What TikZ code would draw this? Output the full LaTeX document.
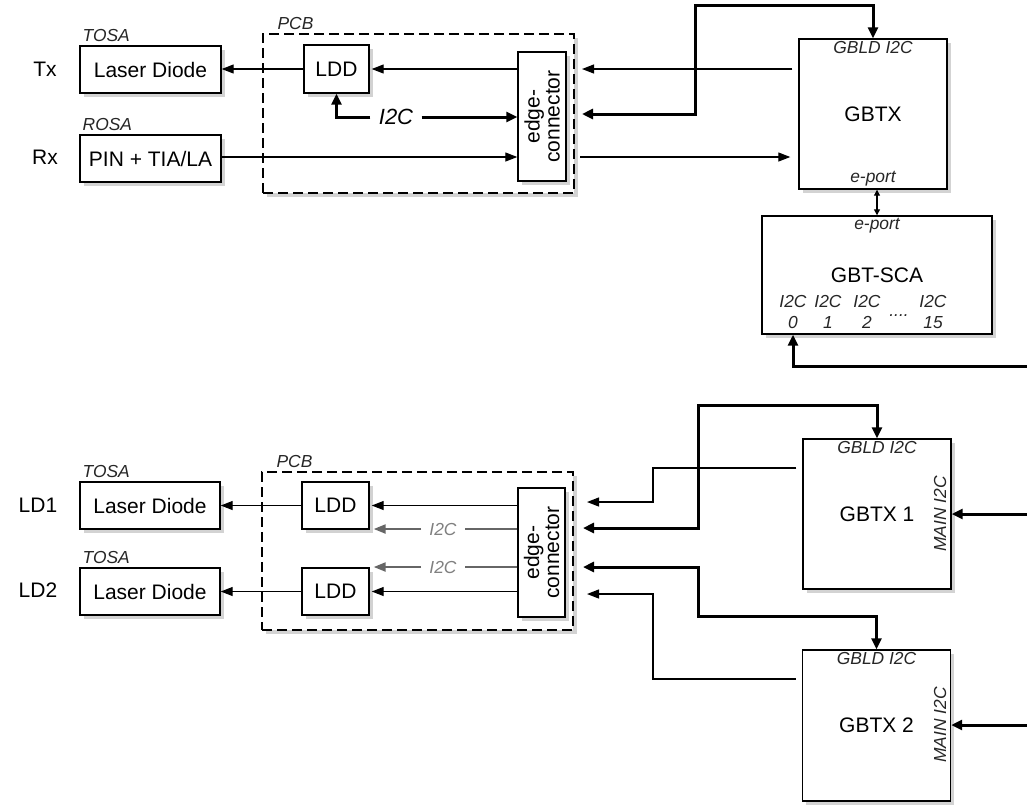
\documentclass[tikz,border=0pt]{standalone}
\usepackage{fontspec}
\setmainfont{Liberation Sans}
\usetikzlibrary{arrows.meta,shadows}

\newcommand{\mainsz}{\fontsize{10.5}{12}\selectfont}
\newcommand{\labsz}{\fontsize{8.7}{10}\selectfont\itshape}

\begin{document}
\begin{tikzpicture}[x=0.5pt, y=-0.5pt,
  box/.style={draw, line width=0.7pt, fill=white, inner sep=0pt, font=\mainsz,
    drop shadow={shadow xshift=1.8pt, shadow yshift=-1.8pt, opacity=0.35}},
  pcbbox/.style={box, dash pattern=on 5pt off 2.5pt, line width=0.8pt},
  txt/.style={font=\mainsz, inner sep=0pt},
  lab/.style={font=\labsz, text=black!85, inner sep=1.5pt},
  sig/.style={line width=0.6pt, -{Triangle[length=6pt,width=4.5pt]}},
  bus/.style={line width=1.5pt, -{Triangle[length=5.5pt,width=5pt]}},
  bibus/.style={line width=1.5pt, {Triangle[length=5.5pt,width=5pt]}-{Triangle[length=5.5pt,width=5pt]}},
  graysig/.style={line width=1.1pt, draw=black!60, -{Triangle[length=6pt,width=4.5pt]}},
]
\useasboundingbox (0,0) rectangle (1027,805);

% Optical side, Tx / Rx
\node[txt] (tx) at (45,69) {Tx};
\node[txt] (rx) at (45,157) {Rx};
\node[box, minimum width=70.5pt, minimum height=23.5pt] (tosa) at (150.5,69.5) {Laser Diode};
\node[lab, anchor=south west] (tosalab) at (tosa.north west) {TOSA};
\node[box, minimum width=70.5pt, minimum height=23.5pt] (rosa) at (150.5,158.5) {PIN + TIA/LA};
\node[lab, anchor=south west] (rosalab) at (rosa.north west) {ROSA};

% PCB with driver and connector
\node[pcbbox, minimum width=155.5pt, minimum height=79.5pt] (pcb) at (418.5,113.5) {};
\node[lab, anchor=south west] (pcblab) at ([xshift=6pt]pcb.north west) {PCB};
\node[box, minimum width=32.5pt, minimum height=24pt] (ldd) at (336.5,69) {LDD};
\node[box, minimum width=24pt, minimum height=64.5pt] (edge) at (542,116.5) {};
\node[txt, rotate=90, align=center, font=\fontsize{10.5}{10}\selectfont] (edgetxt) at (edge) {edge-\\connector};
\node[font=\fontsize{11}{13}\selectfont\itshape, inner sep=4pt] (ldi2c) at (396,117) {I2C};

% GBTX
\node[box, minimum width=74pt, minimum height=75pt] (gbtx) at (873,114) {GBTX};
\node[lab, anchor=north] (gbtxtop) at (gbtx.north) {GBLD I2C};
\node[lab, anchor=south] (gbtxbot) at (gbtx.south) {e-port};

% GBT-SCA
\node[box, minimum width=115pt, minimum height=59pt] (sca) at (877,275) {GBT-SCA};
\node[lab, anchor=north] (scatop) at (sca.north) {e-port};
\node[lab, align=center, font=\fontsize{8.7}{10.5}\selectfont\itshape] (sca0) at (793,312) {I2C\\0};
\node[lab, align=center, font=\fontsize{8.7}{10.5}\selectfont\itshape] (sca1) at (828,312) {I2C\\1};
\node[lab, align=center, font=\fontsize{8.7}{10.5}\selectfont\itshape] (sca2) at (867,312) {I2C\\2};
\node[lab, align=center, font=\fontsize{8.7}{10.5}\selectfont\itshape] (sca15) at (933,312) {I2C\\15};
\node[lab] (scadots) at (899,316) {....};

% Top connections
\coordinate (txin) at (582,69);
\coordinate (i2cin) at (582,114);
\coordinate (rxout) at (580,157);
\coordinate (topbend) at (695,5);
\coordinate (scain) at (1027,366);
\draw[sig] (ldd.west) -- (ldd.west -| tosa.east);
\draw[sig, shorten >=1pt] (edge.west |- ldd) -- (ldd.east);
\draw[bus] (ldi2c.west) -| (ldd.south);
\draw[bus] (ldi2c.east) -- (ldi2c.east -| edge.west);
\draw[sig] (rosa.east |- rxout) -- (rxout -| edge.west);
\draw[sig, shorten >=4pt] (rxout) -- (rxout -| gbtx.west);
\draw[sig, shorten <=3pt] (gbtx.west |- txin) -- (txin);
\draw[bibus] (i2cin) -| (topbend) -| (gbtx.north);
\draw[line width=0.6pt, {Triangle[length=3pt,width=3pt]}-{Triangle[length=3pt,width=3pt]}] (sca.north) -- (sca.north |- gbtx.south);
\draw[bus] (scain) -| (sca0.south |- sca.south);

% Optical side, LD1 / LD2
\node[txt] (ldone) at (38,505) {LD1};
\node[txt] (ldtwo) at (38,590) {LD2};
\node[box, minimum width=70pt, minimum height=23.5pt] (tosaa) at (150,505.5) {Laser Diode};
\node[lab, anchor=south west] (tosaalab) at (tosaa.north west) {TOSA};
\node[box, minimum width=70pt, minimum height=23.5pt] (tosab) at (150,591.5) {Laser Diode};
\node[lab, anchor=south west] (tosablab) at (tosab.north west) {TOSA};

% PCB with two drivers
\node[pcbbox, minimum width=155.5pt, minimum height=79pt] (pcbb) at (417.5,551) {};
\node[lab, anchor=south west] (pcbblab) at ([xshift=6pt]pcbb.north west) {PCB};
\node[box, minimum width=33.5pt, minimum height=23.5pt] (ldda) at (335.5,505.5) {LDD};
\node[box, minimum width=33.5pt, minimum height=23.5pt] (lddb) at (335.5,591.5) {LDD};
\node[box, minimum width=23.5pt, minimum height=64.5pt] (edgeb) at (541.5,552.5) {};
\node[txt, rotate=90, align=center, font=\fontsize{10.5}{10}\selectfont] (edgebtxt) at (edgeb) {edge-\\connector};
\node[lab, text=black!50, inner sep=4pt] (grya) at (443,529) {I2C};
\node[lab, text=black!50, inner sep=4pt] (gryb) at (443,567) {I2C};

% GBTX 1 and 2
\node[box, minimum width=74pt, minimum height=75pt] (gbtxa) at (877,514) {GBTX 1};
\node[lab, anchor=north] (gbtxatop) at (gbtxa.north) {GBLD I2C};
\node[lab, rotate=90] (gbtxamain) at (940,514) {MAIN I2C};
\node[box, minimum width=74pt, minimum height=75.5pt] (gbtxb) at (876.5,725.5) {GBTX 2};
\node[lab, anchor=north] (gbtxbtop) at (gbtxb.north) {GBLD I2C};
\node[lab, rotate=90] (gbtxbmain) at (940,725) {MAIN I2C};

% Bottom connections
\draw[sig] (ldda.west) -- (ldda.west -| tosaa.east);
\draw[sig] (lddb.west) -- (lddb.west -| tosab.east);
\draw[sig, shorten >=1pt] (edgeb.west |- ldda) -- (ldda.east);
\draw[sig, shorten >=1pt] (edgeb.west |- lddb) -- (lddb.east);
\draw[graysig, -] (edgeb.west |- grya) -- (grya.east);
\draw[graysig, shorten >=2pt] (grya.west) -- (grya.west -| ldda.east);
\draw[graysig, -] (edgeb.west |- gryb) -- (gryb.east);
\draw[graysig, shorten >=2pt] (gryb.west) -- (gryb.west -| lddb.east);
\coordinate (lda) at (587,502);
\coordinate (kinka) at (653,468);
\coordinate (busa) at (583,528);
\coordinate (benda) at (698,405);
\coordinate (busb) at (583,567);
\coordinate (bendb) at (698,616);
\coordinate (ldb) at (587,594);
\coordinate (kinkb) at (653,679);
\coordinate (maina) at (1027,514);
\coordinate (mainb) at (1027,725);
\draw[sig, shorten <=3pt] (kinka -| gbtxa.west) -- (kinka) |- (lda);
\draw[bibus] (busa) -| (benda) -| (gbtxa.north);
\draw[bibus] (busb) -| (bendb) -| (gbtxb.north);
\draw[sig, shorten <=3pt] (kinkb -| gbtxb.west) -- (kinkb) |- (ldb);
\draw[bus] (maina) -- (maina -| gbtxa.east);
\draw[bus] (mainb) -- (mainb -| gbtxb.east);

\end{tikzpicture}
\end{document}
